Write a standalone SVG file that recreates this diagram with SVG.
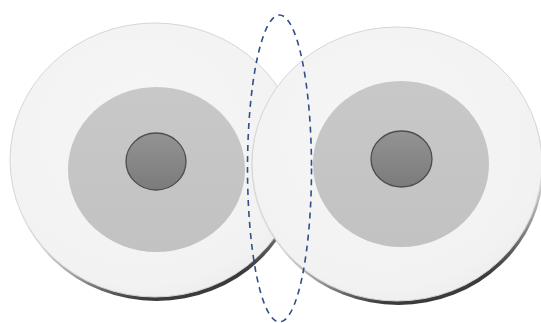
<svg xmlns="http://www.w3.org/2000/svg" width="541" height="323" viewBox="0 0 541 323">
  <defs>
    <linearGradient id="rimShade" x1="0.15" y1="0" x2="0.45" y2="1">
      <stop offset="0" stop-color="#f0f0f0"/>
      <stop offset="0.72" stop-color="#dcdcdc"/>
      <stop offset="0.86" stop-color="#9a9a9a"/>
      <stop offset="0.95" stop-color="#555555"/>
      <stop offset="1" stop-color="#3a3a3a"/>
    </linearGradient>
    <radialGradient id="faceGrad" cx="0.45" cy="0.4" r="0.65">
      <stop offset="0" stop-color="#f6f6f6"/>
      <stop offset="0.85" stop-color="#f2f2f2"/>
      <stop offset="1" stop-color="#ececec"/>
    </radialGradient>
    <linearGradient id="midGrad" x1="0" y1="0" x2="0" y2="1">
      <stop offset="0" stop-color="#c8c8c8"/>
      <stop offset="1" stop-color="#c2c2c2"/>
    </linearGradient>
    <linearGradient id="hubGrad" x1="0" y1="0" x2="0" y2="1">
      <stop offset="0" stop-color="#939393"/>
      <stop offset="1" stop-color="#7b7b7b"/>
    </linearGradient>
    <filter id="soft" x="-5%" y="-5%" width="110%" height="110%">
      <feGaussianBlur stdDeviation="0.7"/>
    </filter>
  </defs>
  <style>
    .rim { fill: url(#rimShade); filter: url(#soft); }
    .face { fill: url(#faceGrad); stroke: #d6d6d6; stroke-width: 1; }
    .mid { fill: url(#midGrad); }
    .hub { fill: url(#hubGrad); stroke: #4d4d4d; stroke-width: 1.3; }
    .zone { fill: none; stroke: #2f4f88; stroke-width: 1.6; stroke-dasharray: 6 5; }
  </style>
  <rect width="541" height="323" fill="#ffffff"/>

  <g id="disc-left">
    <ellipse class="rim" cx="156.5" cy="164" rx="145" ry="137"/>
    <ellipse class="face" cx="155" cy="160" rx="145" ry="137"/>
    <ellipse class="mid" cx="156.5" cy="169.5" rx="88.5" ry="82.5"/>
    <ellipse class="hub" cx="156" cy="161.5" rx="30" ry="28.5"/>
  </g>

  <g id="disc-right">
    <ellipse cx="396" cy="165" rx="145" ry="137" fill="#000" opacity="0.06" filter="url(#soft)"/>
    <ellipse class="rim" cx="398.5" cy="168" rx="145" ry="137"/>
    <ellipse class="face" cx="397" cy="164" rx="145" ry="137"/>
    <ellipse class="mid" cx="401" cy="164" rx="88" ry="83"/>
    <ellipse class="hub" cx="401.5" cy="159" rx="30.5" ry="28"/>
  </g>

  <g id="connectors">
    <ellipse id="overlap-zone" class="zone" cx="279.5" cy="168.5" rx="32" ry="153.5"/>
  </g>
</svg>
